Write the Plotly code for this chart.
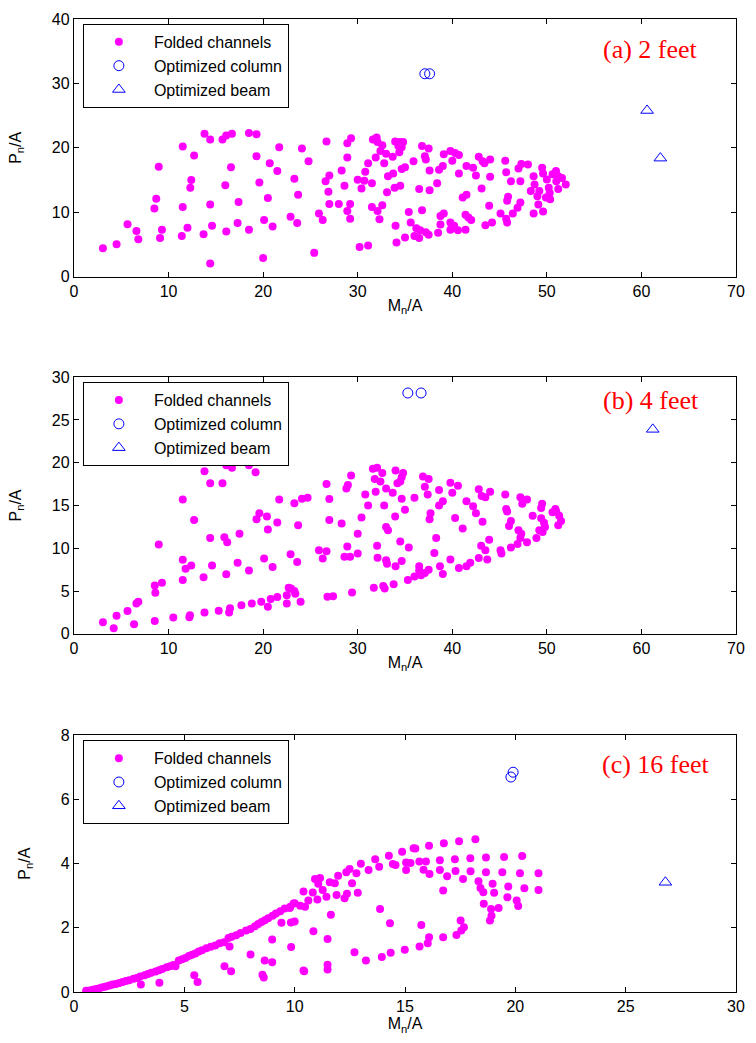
import plotly.graph_objects as go

# ---------------- Panel (a) 2 feet ----------------
fc_a_x = [3.06, 4.5, 5.66, 6.6, 6.8, 8.96, 8.7, 8.5, 9.3, 9.1, 11.5, 12.7, 12.4, 12.3, 11.5, 12.0, 11.4,
          13.8, 14.4, 14.4, 14.6, 13.7, 14.4, 15.7, 16.1, 16.7, 16.6, 16.0, 17.4, 17.3, 16.1, 18.5, 18.5,
          19.3, 19.3, 19.6, 20.5, 20.1, 21.0, 20.0, 20.7, 21.5, 21.7, 24.1, 24.8, 23.3, 23.7, 22.9, 23.6,
          25.4, 25.9, 26.3, 26.7, 26.6, 27.0, 26.9, 27.0, 28.0, 28.3, 28.6, 28.9, 28.9, 29.3, 29.2, 28.9,
          29.2, 30.0, 30.7, 30.4, 30.8, 31.1, 31.5, 30.2, 31.1, 31.5, 32.1, 32.6, 32.3, 31.6, 32.0, 32.1,
          32.6, 32.4, 31.9, 32.8, 33.0, 33.7, 33.2, 33.75, 33.1, 33.9, 34.5, 33.96, 34.4, 34.8, 34.3, 34.65,
          34.4, 34.65, 35.0, 34.0, 34.1, 35.0, 35.4, 35.6, 35.9, 36.0,
          36.8, 37.5, 37.1, 37.2, 37.6, 38.4, 37.6, 36.5, 36.8, 36.2, 36.6, 36.5, 37.2, 37.5, 38.5, 38.75,
          38.75, 39.1, 38.6, 39.0, 39.1, 39.8, 40.3, 40.7, 40.0, 39.8, 39.8, 40.2, 40.6, 41.4, 40.7, 41.5,
          42.2, 42.5, 41.1, 41.5, 41.4, 41.7, 42.0, 42.8, 43.2, 43.4, 44.0, 43.1, 44.0, 43.9, 43.5, 44.2,
          45.1, 45.7, 45.8, 45.6, 45.7, 46.2, 45.9, 45.8, 46.4, 46.9, 47.2, 47.2, 47.0, 47.3, 48.0, 48.3,
          48.6, 48.6, 48.7, 49.0, 49.1, 49.2, 49.5, 49.6, 49.6, 50.0, 50.2, 50.3, 50.35, 49.9, 50.6, 50.97,
          51.0, 51.2, 51.6, 52.0, 51.2]
fc_a_y = [4.43, 5.05, 8.14, 7.1, 5.8, 17.06, 12.1, 10.6, 7.3, 6.0, 20.2, 18.8, 15.0, 13.8, 10.8, 7.6, 6.3,
          22.2, 21.3, 11.2, 7.9, 6.6, 2.06, 21.3, 21.9, 22.2, 17.0, 14.2, 11.6, 8.35, 7.0, 7.3, 22.3,
          22.1, 18.7, 14.6, 12.2, 8.8, 7.8, 2.9, 17.6, 16.4, 20.1, 19.9, 17.9, 15.2, 12.7, 9.3, 8.35,
          3.7, 9.8, 8.8, 21.0, 14.8, 15.7, 13.2, 11.3, 11.3, 16.5, 14.1, 18.5, 20.7, 21.5, 11.3, 10.2,
          9.0, 15.05, 14.9, 13.7, 16.3, 17.6, 14.5, 4.6, 4.85, 10.8, 10.2, 11.1, 8.9, 21.3, 21.6, 20.9,
          20.4, 19.5, 18.5, 17.6, 19.1, 18.6, 15.6, 16.0, 13.1, 13.8, 14.1, 21.0, 20.9, 20.9, 20.3, 20.1,
          19.3, 16.7, 17.0, 7.9, 5.3, 6.1, 10.05, 8.4, 17.9, 6.3,
          20.3, 19.9, 18.7, 18.2, 16.5, 14.5, 13.4, 13.6, 10.3, 7.5, 7.2, 6.0, 6.9, 6.5, 6.8, 8.1,
          9.4, 9.8, 16.6, 17.2, 19.0, 19.5, 19.2, 18.9, 18.0, 8.4, 7.3, 7.9, 7.2, 7.3, 16.0, 17.2,
          16.9, 15.7, 12.3, 12.7, 9.6, 9.2, 8.8, 18.6, 17.9, 17.6, 18.2, 13.7, 15.5, 11.0, 8.0, 8.4,
          9.8, 9.0, 8.4, 18.0, 16.2, 14.8, 12.4, 11.8, 9.8, 10.7, 11.5, 14.8, 16.8, 17.5, 17.4, 13.3,
          15.6, 9.8, 14.3, 12.5, 11.2, 13.3, 16.9, 16.0, 10.1, 15.1, 13.8, 13.0, 12.0, 12.3, 15.9, 16.4,
          14.8, 13.6, 15.3, 14.3, 15.6]
col_a_x = [37.1, 37.6]
col_a_y = [31.5, 31.5]
beam_a_x = [60.6, 62.0]
beam_a_y = [25.8, 18.4]

# ---------------- Panel (b) 4 feet ----------------
fc_b_x = [3.06, 4.2, 4.5, 5.66, 6.35, 6.6, 6.8, 8.54, 8.6, 9.3, 8.96, 8.54, 10.5, 11.5, 11.5, 11.8, 12.4,
          11.5, 12.26, 12.2, 12.7, 13.8, 14.4, 14.4, 14.6, 13.7, 13.8, 16.1, 16.7, 15.7, 15.9, 16.2, 16.1,
          15.3, 16.4, 16.5, 17.5, 17.3, 17.7, 18.5, 19.2, 19.6, 19.3, 18.5, 18.8, 20.4, 20.5, 20.1, 21.0,
          19.8, 20.5, 20.8, 21.5, 21.5, 21.7, 23.3, 24.1, 24.7, 23.7, 22.9, 23.6, 22.5, 22.7, 22.95, 23.3,
          23.4, 22.5, 23.96, 25.9, 26.7, 26.3, 26.7, 27.0, 27.0, 26.8, 27.4, 28.3, 28.96, 28.8, 29.3, 28.9,
          28.6, 29.2, 30.0, 30.0, 29.4, 30.4, 30.8, 31.1, 31.6, 32.05, 31.8, 31.9, 32.6, 32.4, 33.0, 32.8,
          33.0, 33.2, 32.05, 32.1, 33.0, 33.1, 31.7, 32.7, 32.85, 33.8, 33.7, 33.96, 34.0, 34.8, 34.65, 34.2,
          34.5, 34.65, 35.0, 34.5, 34.65, 34.0, 35.4, 35.3, 36.0, 36.0,
          36.9, 37.5, 37.1, 37.4, 38.6, 39.0, 38.6, 37.7, 37.6, 38.3, 38.1, 36.5, 36.5, 36.7, 37.1, 37.5,
          38.7, 39.0, 39.8, 40.0, 40.6, 40.3, 41.1, 39.8, 40.7, 41.5, 41.9, 41.5, 42.2, 42.5, 42.8, 43.1,
          43.5, 44.0, 43.2, 43.9, 43.05, 43.5, 43.7, 42.8, 45.1, 45.2, 45.6, 45.7, 45.8, 46.2, 46.0, 46.2,
          47.0, 47.3, 47.2, 46.9, 47.9, 47.2, 47.4, 47.9, 48.5, 48.9, 49.5, 49.4, 49.4, 49.7, 49.2, 49.8,
          49.55, 50.9, 50.6, 51.0, 51.3, 51.5, 51.2]
fc_b_y = [1.35, 0.66, 2.1, 2.67, 1.12, 3.56, 3.76, 5.65, 4.8, 5.96, 10.45, 1.5, 1.9, 15.7, 8.67, 7.6, 8.0,
          6.3, 2.17, 1.94, 13.3, 19.0, 17.6, 11.2, 8.0, 6.6, 2.48, 19.7, 19.4, 17.6, 11.3, 10.7, 6.97,
          2.7, 2.5, 3.0, 11.7, 8.3, 3.33, 19.7, 18.9, 14.1, 13.4, 7.4, 3.56, 13.7, 12.2, 8.8, 7.8,
          3.76, 3.17, 4.07, 4.3, 13.0, 15.7, 15.25, 15.8, 15.9, 12.7, 9.3, 8.4, 4.5, 5.4, 5.3, 5.0,
          4.7, 3.56, 3.76, 9.76, 9.64, 8.8, 17.5, 15.76, 13.3, 4.34, 4.4, 12.9, 17.4, 17.0, 18.5, 10.2,
          9.0, 9.0, 9.4, 11.7, 4.84, 13.6, 16.3, 15.0, 19.3, 19.4, 18.1, 16.6, 18.8, 17.8, 17.0, 15.0,
          12.5, 12.1, 10.3, 8.9, 8.6, 8.2, 5.4, 5.6, 5.3, 5.8, 16.5, 13.7, 19.1, 18.8, 18.3, 17.6,
          17.8, 15.8, 14.5, 10.8, 8.5, 7.9, 10.1, 6.3, 15.9, 6.7,
          18.4, 18.1, 17.2, 16.3, 16.8, 15.5, 15.0, 14.1, 13.4, 11.2, 9.45, 7.9, 7.4, 6.85, 7.1, 7.5,
          7.9, 7.0, 17.65, 16.5, 17.3, 13.55, 12.3, 8.7, 7.7, 7.9, 8.3, 15.5, 14.9, 14.1, 16.9, 16.1,
          15.96, 16.6, 13.1, 11.0, 10.3, 9.76, 8.7, 8.87, 9.76, 9.4, 16.3, 14.6, 14.3, 13.2, 12.6, 10.1,
          12.1, 11.7, 11.2, 10.5, 10.7, 15.95, 15.2, 15.7, 13.8, 11.2, 15.2, 14.7, 13.5, 12.97, 12.1, 12.5,
          11.9, 14.6, 14.2, 14.3, 13.8, 13.2, 12.7]
col_b_x = [35.3, 36.7]
col_b_y = [28.15, 28.15]
beam_b_x = [61.2]
beam_b_y = [23.9]

# ---------------- Panel (c) 16 feet ----------------
fc_c_x = [0.55, 0.7, 0.85, 1.0, 1.15, 1.3, 1.45, 1.6, 1.75, 1.9, 2.05, 2.2, 2.35, 2.5, 2.7, 2.85, 3.0, 3.2,
          3.35, 3.5, 3.7, 3.85, 4.0, 4.2, 4.35, 4.5, 4.6, 4.75, 4.9, 5.05, 5.2, 5.35, 5.5, 5.65, 5.8, 6.0,
          6.2, 6.4, 6.6, 6.8, 7.0, 7.15, 7.35, 7.55, 7.8, 8.0, 8.2, 8.35, 8.5, 8.65, 8.8, 9.0, 9.15, 9.35,
          9.55, 9.8, 10.0,
          3.03, 3.87, 5.45, 5.6, 7.05, 8.98, 9.4, 9.84, 10.0, 8.0, 8.64, 8.98, 6.82, 7.12, 8.54, 8.6, 10.4,
          9.78, 9.95, 10.25, 10.47, 10.4, 10.62, 10.82, 10.92, 11.15, 11.07, 11.27, 11.03, 11.44, 11.59,
          11.82, 11.97, 11.9, 12.26, 12.37, 12.34, 12.49, 12.6, 12.8, 12.86, 13.0, 13.35, 13.65, 13.83,
          14.27, 14.45, 14.57, 14.87, 15.05, 15.25, 15.05, 15.39,
          11.64, 13.87, 9.83, 10.85, 14.32, 11.49, 12.71, 13.23, 13.95, 14.35, 14.99, 10.43, 11.49, 11.49,
          15.47, 16.09, 16.76, 17.45, 18.19, 15.65, 15.95, 15.84, 16.11, 16.58, 16.58, 16.91, 17.26, 17.29,
          17.63, 17.96, 17.97, 18.33, 18.67, 18.67, 18.42, 18.55, 18.97, 19.04, 19.49, 19.41, 19.68, 19.64,
          20.31, 20.21, 20.41, 20.06, 20.13, 21.05, 21.05, 16.73, 18.57, 18.9, 19.24, 18.92, 18.85, 17.52,
          17.67, 17.55, 17.33, 15.74, 16.09, 16.03, 16.73, 15.66]
fc_c_y = [0.04, 0.05, 0.07, 0.09, 0.12, 0.15, 0.17, 0.2, 0.23, 0.25, 0.28, 0.31, 0.34, 0.37, 0.41, 0.44,
          0.48, 0.52, 0.56, 0.6, 0.64, 0.68, 0.72, 0.77, 0.8, 0.84, 0.8, 0.98, 1.02, 1.06, 1.12, 1.16, 1.2,
          1.26, 1.3, 1.36, 1.41, 1.45, 1.52, 1.55, 1.68, 1.72, 1.77, 1.84, 1.92, 1.96, 2.05, 2.12, 2.18,
          2.24, 2.3, 2.38, 2.45, 2.52, 2.6, 2.66, 2.77,
          0.23, 0.29, 0.52, 0.31, 1.42, 1.64, 2.16, 1.4, 2.2, 1.17, 0.98, 0.93, 0.8, 0.65, 0.54, 0.45, 0.67,
          2.62, 2.76, 2.69, 2.66, 3.13, 2.85, 3.1, 3.52, 3.55, 3.37, 3.18, 2.88, 2.97, 3.42,
          3.39, 3.62, 3.02, 2.92, 3.06, 3.73, 3.83, 3.39, 3.7, 3.09, 4.0, 3.8, 4.14, 3.9,
          4.25, 3.99, 3.96, 4.37, 4.04, 4.02, 3.8, 4.48,
          2.41, 2.59, 2.17, 1.89, 2.14, 1.65, 1.24, 0.98, 1.09, 1.22, 1.32, 0.65, 0.85, 0.7,
          4.47, 4.56, 4.64, 4.7, 4.76, 4.07, 4.07, 3.81, 3.68, 4.11, 3.8, 3.61, 4.14, 3.77,
          3.52, 4.17, 3.76, 3.45, 4.19, 3.73, 3.24, 3.11, 3.37, 3.09, 4.21, 3.73, 3.29, 2.95,
          4.24, 3.7, 3.23, 2.85, 2.68, 3.7, 3.18, 3.16, 2.75, 2.59, 2.62, 2.38, 2.23, 2.23,
          2.02, 1.92, 1.78, 2.09, 1.71, 1.52, 1.71, 1.42]
col_c_x = [19.9, 19.8]
col_c_y = [6.85, 6.7]
beam_c_x = [26.8]
beam_c_y = [3.42]

x_ranges = [[0, 70], [0, 70], [0, 30]]
y_ranges = [[0, 40], [0, 30], [0, 8]]
x_dticks = [10, 10, 5]
y_dticks = [10, 5, 2]
labels = ["(a) 2 feet", "(b) 4 feet", "(c) 16 feet"]

panels = [
    (fc_a_x, fc_a_y, col_a_x, col_a_y, beam_a_x, beam_a_y),
    (fc_b_x, fc_b_y, col_b_x, col_b_y, beam_b_x, beam_b_y),
    (fc_c_x, fc_c_y, col_c_x, col_c_y, beam_c_x, beam_c_y),
]

W, H = 756, 1043
ML, MR, MT, MB = 74, 11, 14, 51
plot_h = H - MT - MB
boxes = [(14, 273), (374, 632), (734, 992)]
doms = [[(H - MB - b) / plot_h, (H - MB - t) / plot_h] for (t, b) in boxes]

MAG = "#FF00FF"
BLUE = "#0000FF"
FONT = "Liberation Sans, Arial, sans-serif"

fig = go.Figure()
for i, (fx, fy, cx, cy, bx, by) in enumerate(panels):
    sfx = "" if i == 0 else str(i + 1)
    leg = "legend" if i == 0 else "legend" + str(i + 1)
    fig.add_trace(go.Scatter(x=fx, y=fy, mode="markers", name="Folded channels",
                             marker=dict(symbol="circle", size=8, color=MAG, line=dict(width=0)),
                             xaxis="x" + sfx, yaxis="y" + sfx, legend=leg))
    fig.add_trace(go.Scatter(x=cx, y=cy, mode="markers", name="Optimized column",
                             marker=dict(symbol="circle-open", size=10, color=BLUE, line=dict(width=1, color=BLUE)),
                             xaxis="x" + sfx, yaxis="y" + sfx, legend=leg))
    fig.add_trace(go.Scatter(x=bx, y=by, mode="markers", name="Optimized beam",
                             marker=dict(symbol="triangle-up-open", size=11, color=BLUE, line=dict(width=1, color=BLUE)),
                             xaxis="x" + sfx, yaxis="y" + sfx, legend=leg))

axis_common = dict(showline=True, linecolor="black", linewidth=1.3, mirror="ticks", ticks="inside",
                   ticklen=5, tickwidth=1, tickcolor="black", showgrid=False, zeroline=False,
                   tickfont=dict(family=FONT, size=16, color="black"))

layout = dict(width=W, height=H, margin=dict(l=ML, r=MR, t=MT, b=MB),
              plot_bgcolor="white", paper_bgcolor="white", showlegend=True)
legend_tops = [19, 379, 739]
for i in range(3):
    sfx = "" if i == 0 else str(i + 1)
    layout["xaxis" + sfx] = dict(axis_common, domain=[0, 1], range=x_ranges[i], dtick=x_dticks[i], tick0=0,
                                 anchor="y" + sfx,
                                 title=dict(text="M<sub>n</sub>/A", standoff=0,
                                            font=dict(family=FONT, size=16, color="black")))
    layout["yaxis" + sfx] = dict(axis_common, domain=doms[i], range=y_ranges[i], dtick=y_dticks[i], tick0=0,
                                 anchor="x" + sfx,
                                 title=dict(text="P<sub>n</sub>/A", standoff=26,
                                            font=dict(family=FONT, size=16, color="black")))
    leg = "legend" if i == 0 else "legend" + str(i + 1)
    layout[leg] = dict(x=(83 - ML) / (W - ML - MR), y=(H - MB - legend_tops[i]) / plot_h,
                       xanchor="left", yanchor="top", bgcolor="white", bordercolor="black", borderwidth=1,
                       font=dict(family=FONT, size=16, color="black"), itemwidth=60, tracegroupgap=0)

fig.update_layout(**layout)

label_pos = [(658, 45), (659, 397), (664, 763)]
for i, txt in enumerate(labels):
    px, py = label_pos[i]
    fig.add_annotation(x=(px - ML) / (W - ML - MR), y=(H - MB - py) / plot_h, xref="paper", yref="paper",
                       text=txt, showarrow=False, xanchor="center", yanchor="middle",
                       font=dict(family="Liberation Serif, Times New Roman, serif", size=26, color="#FF0000"))

fig.write_html("out.html", config={"displayModeBar": False},
               post_script="document.body.style.margin='0';document.body.style.padding='0';"
                           "document.body.style.overflow='hidden';")
